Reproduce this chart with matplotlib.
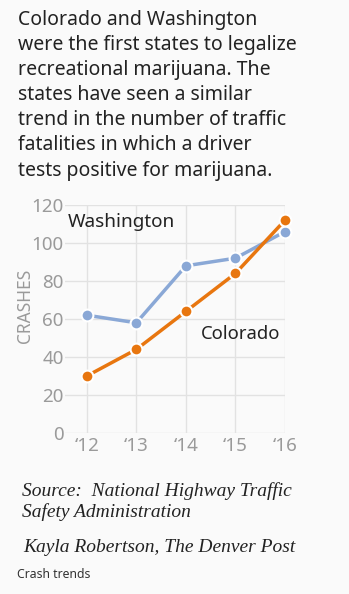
import matplotlib.pyplot as plt

years = [2012, 2013, 2014, 2015, 2016]
year_labels = ['\u201812', '\u201813', '\u201814', '\u201815', '\u201816']
washington = [62, 58, 88, 92, 106]
colorado = [30, 44, 64, 84, 112]
y_ticks = [0, 20, 40, 60, 80, 100, 120]

bg = '#fafafa'
blue = '#8aa8d6'
orange = '#e8760f'
grey = '#9a9a9a'

fig = plt.figure(figsize=(3.49, 5.94), dpi=100, facecolor=bg)

title = ('Colorado and Washington\nwere the first states to legalize\n'
         'recreational marijuana. The\nstates have seen a similar\n'
         'trend in the number of traffic\nfatalities in which a driver\n'
         'tests positive for marijuana.')
fig.text(18 / 349, 1 - 10 / 594, title, family='Noto Sans', fontsize=14.0,
         color='#222222', va='top', ha='left', linespacing=1.34)

ax = fig.add_axes([65 / 349, 1 - 433 / 594, 220 / 349, 228 / 594])
ax.set_facecolor(bg)
ax.plot(years, washington, color=blue, lw=2.5, marker='o', ms=8.5,
        mec='white', mew=1.5, zorder=3, clip_on=False)
ax.plot(years, colorado, color=orange, lw=2.5, marker='o', ms=8.5,
        mec='white', mew=1.5, zorder=4, clip_on=False)
ax.set_xlim(2011.56, 2016.0)
ax.set_ylim(0, 120)
ax.set_yticks(y_ticks)
ax.set_xticks(years)
ax.set_xticklabels(year_labels)
ax.grid(True, color='#e2e2e2', lw=1)
ax.set_axisbelow(True)
for s in ax.spines.values():
    s.set_visible(False)
ax.tick_params(length=0, colors=grey, labelsize=13.5, pad=1)
ax.tick_params(axis='x', pad=3)
for lab in ax.get_xticklabels() + ax.get_yticklabels():
    lab.set_family('Noto Sans')
ax.set_ylabel('CRASHES', color=grey, fontsize=12.5, family='Noto Sans')
ax.yaxis.set_label_coords(-0.14, 0.557)

ax.text(2011.62, 111, 'Washington', family='Noto Sans', fontsize=13.6,
        color='#222222', va='center', ha='left')
ax.text(2014.3, 52, 'Colorado', family='Noto Sans', fontsize=13.3,
        color='#222222', va='center', ha='left')

fig.text(22 / 349, 1 - 502 / 594, 'Source:  National Highway Traffic\nSafety Administration',
         family='Liberation Serif', style='italic', fontsize=14.0, color='#222222',
         va='center', ha='left', linespacing=1.22)
fig.text(23 / 349, 1 - 548 / 594, 'Kayla Robertson, The Denver Post',
         family='Liberation Serif', style='italic', fontsize=14.0, color='#222222',
         va='center', ha='left')
fig.text(17 / 349, 1 - 575 / 594, 'Crash trends', family='Noto Sans', fontsize=8.8,
         color='#333333', va='center', ha='left')

fig.savefig('out.png', dpi=100, facecolor=bg)
